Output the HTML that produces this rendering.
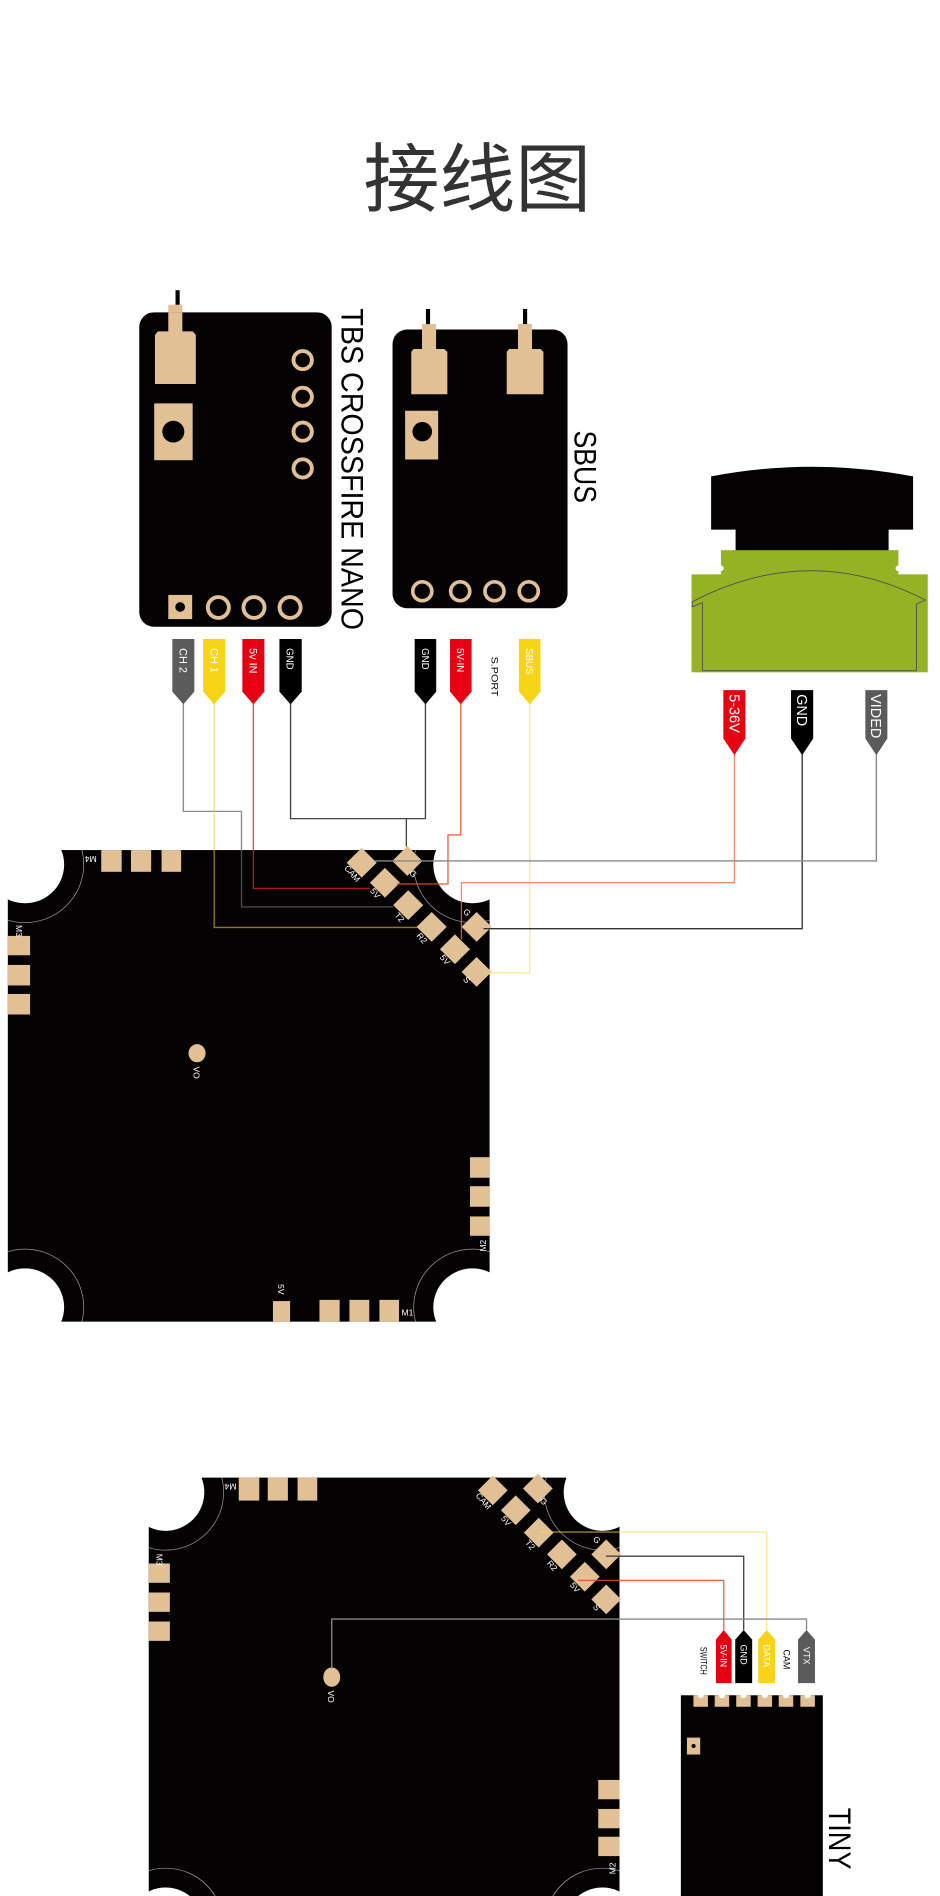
<!DOCTYPE html>
<html><head><meta charset="utf-8"><style>
html,body{margin:0;padding:0;background:#fff;}
svg{display:block;}
text{font-family:"Liberation Sans","Noto Sans CJK SC",sans-serif;}
</style></head><body>
<svg width="940" height="1896" viewBox="0 0 768 1568" preserveAspectRatio="none" xmlns="http://www.w3.org/2000/svg">
<defs>
<clipPath id="b1"><rect x="6.4" y="703" width="393.6" height="390"/></clipPath>
<clipPath id="b2"><rect x="121.5" y="1222" width="389.7" height="346"/></clipPath>
</defs>
<rect width="768" height="1568" fill="#fff"/>
<text x="390" y="170" font-size="62" text-anchor="middle" fill="#333" style="font-family:'Noto Sans CJK SC',sans-serif">接线图</text>

<!-- TBS board -->
<rect x="143.4" y="240" width="3.4" height="14" fill="#000"/>
<rect x="137.5" y="252" width="11.5" height="24" fill="#e2c095"/>
<rect x="113.8" y="258.3" width="157.2" height="260" rx="12" fill="#050203"/>
<rect x="137.5" y="258.3" width="11.5" height="18" fill="#e2c095"/>
<path d="M129 274 H157.5 L160 277 V317.6 H126.6 V277 Z" fill="#e2c095"/>
<rect x="126" y="333.6" width="31.4" height="47" fill="#e2c095"/>
<circle cx="141.6" cy="357" r="9" fill="#050203"/>
<g fill="none" stroke="#e2c095" stroke-width="3.2">
<circle cx="247.3" cy="297.8" r="7.5"/><circle cx="247.3" cy="328.1" r="7.5"/><circle cx="247.3" cy="357" r="7.5"/><circle cx="247.3" cy="387.4" r="7.5"/>
<circle cx="178.4" cy="502.4" r="8.6"/><circle cx="207.5" cy="502.4" r="8.6"/><circle cx="237" cy="502.4" r="8.6"/>
</g>
<rect x="137.5" y="492" width="19.5" height="20" fill="#e2c095"/>
<circle cx="147.2" cy="502" r="4" fill="#050203"/>
<text transform="translate(279,255) rotate(90)" font-size="26" textLength="266" lengthAdjust="spacingAndGlyphs" fill="#000">TBS CROSSFIRE NANO</text>

<!-- SBUS board -->
<rect x="348" y="255.5" width="3.4" height="15" fill="#000"/>
<rect x="427.3" y="255.5" width="3.4" height="15" fill="#000"/>
<rect x="320.7" y="272.5" width="143" height="230.5" rx="12" fill="#050203"/>
<rect x="344.8" y="268" width="11.5" height="22" fill="#e2c095"/>
<rect x="423.2" y="268" width="11.5" height="22" fill="#e2c095"/>
<path d="M338 288.6 H363 L365.5 291 V326 H336 V291 Z" fill="#e2c095"/>
<path d="M416 288.6 H441.5 L444 291 V326 H414 V291 Z" fill="#e2c095"/>
<rect x="331" y="339.7" width="27" height="40.3" fill="#e2c095"/>
<circle cx="345" cy="357" r="8" fill="#050203"/>
<g fill="none" stroke="#e2c095" stroke-width="3"><circle cx="345" cy="489" r="7.8"/><circle cx="376" cy="489" r="7.8"/><circle cx="404" cy="489" r="7.8"/><circle cx="432" cy="489" r="7.8"/></g>
<text transform="translate(469.5,356) rotate(90)" font-size="26" textLength="60" lengthAdjust="spacingAndGlyphs" fill="#000">SBUS</text>

<!-- Camera -->
<path d="M581 394 Q664 378 746 394 V438 H581 Z" fill="#050203"/>
<rect x="601" y="437" width="125" height="19" fill="#050203"/>
<rect x="589" y="455" width="145" height="21" fill="#94b224"/>
<rect x="565" y="475" width="193" height="81" fill="#94b224"/>
<circle cx="589" cy="470" r="2.3" fill="#fff"/><circle cx="734" cy="470" r="2.3" fill="#fff"/>
<path d="M565.6 497.6 Q661.7 447 756 496.2 L748.8 499.5 V554.7 H574 V498.4 L565.6 501.8 Z" fill="none" stroke="#4a4a55" stroke-width="0.7"/>

<!-- FC board 1 -->
<rect x="6.4" y="703" width="393.6" height="390" fill="#050203"/>
<g fill="#fff"><circle cx="20.4" cy="715" r="32"/><circle cx="386" cy="715" r="32"/><circle cx="20.4" cy="1081" r="32"/><circle cx="386" cy="1081" r="32"/></g>
<g clip-path="url(#b1)" fill="none" stroke="#999" stroke-width="0.6"><circle cx="20.4" cy="715" r="48"/><circle cx="386" cy="715" r="48"/><circle cx="20.4" cy="1081" r="48"/><circle cx="386" cy="1081" r="48"/></g>
<g fill="#e2c095">
<rect x="82.7" y="703" width="16.7" height="18"/><rect x="107" y="703" width="16.5" height="18"/><rect x="132" y="703" width="16" height="18"/>
<rect x="6.4" y="774" width="18.2" height="16"/><rect x="6.4" y="798" width="18.2" height="17"/><rect x="6.4" y="822" width="18.2" height="17"/>
<rect x="384" y="957" width="16" height="17"/><rect x="384" y="981" width="16" height="17"/><rect x="384" y="1006" width="16" height="16"/>
<rect x="223" y="1076" width="14" height="17"/><rect x="261" y="1075" width="16.5" height="18"/><rect x="285.5" y="1075" width="16.2" height="18"/><rect x="310" y="1075" width="16" height="18"/>
<ellipse cx="161" cy="871" rx="7" ry="7.5"/>
</g>
<g fill="#e2c095">
<rect x="-8.7" y="-8.7" width="17.4" height="17.4" transform="translate(295.5,713.5) rotate(45)"/>
<rect x="-8.7" y="-8.7" width="17.4" height="17.4" transform="translate(332.8,712) rotate(45)"/>
<rect x="-8.7" y="-8.7" width="17.4" height="17.4" transform="translate(314.5,730) rotate(45)"/>
<rect x="-8.7" y="-8.7" width="17.4" height="17.4" transform="translate(333.5,748.5) rotate(45)"/>
<rect x="-8.7" y="-8.7" width="17.4" height="17.4" transform="translate(352.7,766.5) rotate(45)"/>
<rect x="-8.7" y="-8.7" width="17.4" height="17.4" transform="translate(389.4,766.5) rotate(45)"/>
<rect x="-8.7" y="-8.7" width="17.4" height="17.4" transform="translate(371.7,785) rotate(45)"/>
<rect x="-8.7" y="-8.7" width="17.4" height="17.4" transform="translate(389.4,803.7) rotate(45)"/>
</g>
<g fill="#fff" font-size="7">
<text transform="translate(281,718) rotate(50)">CAM</text>
<text transform="translate(334,722) rotate(50)">G</text>
<text transform="translate(302,737) rotate(50)">5V</text>
<text transform="translate(322,757) rotate(50)">T2</text>
<text transform="translate(340,774) rotate(50)">R2</text>
<text transform="translate(378,754) rotate(50)">G</text>
<text transform="translate(359,792) rotate(50)">5V</text>
<text transform="translate(378,810) rotate(50)">S</text>
<text transform="translate(79,708) rotate(180)">M4</text>
<text transform="translate(13,765) rotate(90)">M3</text>
<text transform="translate(397,1035) rotate(-90)">M2</text>
<text x="328" y="1088">M1</text>
<text transform="translate(227,1062) rotate(90)">5V</text>
<text transform="translate(158,882) rotate(90)">VO</text>
</g>

<!-- Wires FC1 -->
<g fill="none" stroke-width="1.1">
<polyline points="149.8,582 149.8,671 197.3,671 197.3,750 321,750" stroke="#666" stroke-opacity="0.75"/>
<polyline points="175,582 175,767 342,767" stroke="#e8c830" stroke-opacity="0.6"/>
<polyline points="207,582 207,734.7 302,734.7" stroke="#e02010" stroke-opacity="0.8"/>
<polyline points="237.4,582 237.4,677 347.6,677 347.6,582" stroke="#444"/>
<polyline points="332,677 332,700" stroke="#444"/>
<polyline points="376.5,582 376.5,690.5 366,690.5 366,731 324,731" stroke="#e84a20" stroke-opacity="0.85"/>
<polyline points="432.8,582 432.8,804.5 395,804.5" stroke="#f8d850" stroke-opacity="0.6"/>
<polyline points="600,624 600,730 377,730 377,777" stroke="#f07040" stroke-opacity="0.8"/>
<polyline points="655.4,624 655.4,768 395,768" stroke="#333"/>
<polyline points="716,624 716,712 306,712" stroke="#888"/>
</g>

<!-- FC2 + TINY section (slightly compressed horizontally) -->
<g transform="matrix(0.987,0,0,1,1.6,0)">
<rect x="121.5" y="1222" width="389.7" height="346" fill="#050203"/>
<g fill="#fff"><circle cx="135.5" cy="1234" r="32"/><circle cx="497" cy="1234" r="32"/><circle cx="135.5" cy="1593" r="32"/><circle cx="497" cy="1593" r="32"/></g>
<g clip-path="url(#b2)" fill="none" stroke="#999" stroke-width="0.6"><circle cx="135.5" cy="1234" r="48"/><circle cx="497" cy="1234" r="48"/><circle cx="135.5" cy="1593" r="48"/><circle cx="497" cy="1593" r="48"/></g>
<g fill="#e2c095">
<rect x="196" y="1222" width="17" height="19"/><rect x="220" y="1222" width="16.7" height="19"/><rect x="244.7" y="1222" width="16.3" height="19"/>
<rect x="121.5" y="1293" width="17.5" height="16"/><rect x="121.5" y="1317" width="17.5" height="16"/><rect x="121.5" y="1341" width="17.5" height="16"/>
<rect x="493.6" y="1472" width="17.6" height="16"/><rect x="493.6" y="1496" width="17.6" height="16"/><rect x="493.6" y="1519" width="17.6" height="16"/>
<ellipse cx="273" cy="1387" rx="7" ry="8"/>
</g>
<g fill="#e2c095" transform="translate(110.8,519)">
<rect x="-8.7" y="-8.7" width="17.4" height="17.4" transform="translate(295.5,713.5) rotate(45)"/>
<rect x="-8.7" y="-8.7" width="17.4" height="17.4" transform="translate(332.8,712) rotate(45)"/>
<rect x="-8.7" y="-8.7" width="17.4" height="17.4" transform="translate(314.5,730) rotate(45)"/>
<rect x="-8.7" y="-8.7" width="17.4" height="17.4" transform="translate(333.5,748.5) rotate(45)"/>
<rect x="-8.7" y="-8.7" width="17.4" height="17.4" transform="translate(352.7,766.5) rotate(45)"/>
<rect x="-8.7" y="-8.7" width="17.4" height="17.4" transform="translate(389.4,766.5) rotate(45)"/>
<rect x="-8.7" y="-8.7" width="17.4" height="17.4" transform="translate(371.7,785) rotate(45)"/>
<rect x="-8.7" y="-8.7" width="17.4" height="17.4" transform="translate(389.4,803.7) rotate(45)"/>
</g>
<g fill="#fff" font-size="7">
<g transform="translate(110.8,519)">
<text transform="translate(281,718) rotate(50)">CAM</text>
<text transform="translate(334,722) rotate(50)">G</text>
<text transform="translate(302,737) rotate(50)">5V</text>
<text transform="translate(322,757) rotate(50)">T2</text>
<text transform="translate(340,774) rotate(50)">R2</text>
<text transform="translate(378,754) rotate(50)">G</text>
<text transform="translate(359,792) rotate(50)">5V</text>
<text transform="translate(378,810) rotate(50)">S</text>
</g>
<text transform="translate(194,1227) rotate(180)">M4</text>
<text transform="translate(128,1285) rotate(90)">M3</text>
<text transform="translate(508,1550) rotate(-90)">M2</text>
<text transform="translate(270,1398) rotate(90)">VO</text>
</g>

<rect x="562" y="1402" width="117.5" height="166" fill="#050203"/>
<g fill="#e2c095">
<rect x="572.4" y="1402" width="12" height="9.5"/><rect x="590" y="1402" width="12" height="9.5"/><rect x="607.8" y="1402" width="12" height="9.5"/><rect x="625.5" y="1402" width="12" height="9.5"/><rect x="643" y="1402" width="12" height="9.5"/><rect x="660.9" y="1402" width="12" height="9.5"/>
<rect x="567" y="1437" width="11" height="14"/>
</g>
<g fill="#fff"><circle cx="578.4" cy="1402" r="2.5"/><circle cx="596" cy="1402" r="2.5"/><circle cx="613.8" cy="1402" r="2.5"/><circle cx="631.5" cy="1402" r="2.5"/><circle cx="649" cy="1402" r="2.5"/><circle cx="666.9" cy="1402" r="2.5"/></g>
<circle cx="572.5" cy="1444" r="1.7" fill="#050203"/>
<text transform="translate(684.5,1495) rotate(90)" font-size="26" textLength="51" lengthAdjust="spacingAndGlyphs" fill="#000">TINY</text>

<g fill="none" stroke-width="1.1">
<polyline points="444.5,1267 633,1267 633,1348" stroke="#f8d850" stroke-opacity="0.6"/>
<polyline points="500,1287 614,1287 614,1348" stroke="#444"/>
<polyline points="477,1307 597.5,1307 597.5,1348" stroke="#e84a20" stroke-opacity="0.85"/>
<polyline points="273,1380 273,1339 666,1339 666,1348" stroke="#888"/>
</g>
<path d="M591 1392 H604 V1356 L597.5 1348 L591 1356 Z" fill="#e60012"/>
<path d="M607 1392 H621 V1356 L614 1348 L607 1356 Z" fill="#000"/>
<path d="M626 1392 H640 V1356 L633 1348 L626 1356 Z" fill="#f7d417"/>
<path d="M659 1392 H673 V1356 L666 1348 L659 1356 Z" fill="#5b5b5b"/>
<g fill="#fff" font-size="7.5">
<text transform="translate(594.8,1360) rotate(90)">5V-IN</text>
<text transform="translate(611.3,1360) rotate(90)">GND</text>
<text transform="translate(630.3,1360) rotate(90)">DATA</text>
<text transform="translate(663.3,1362) rotate(90)">VTX</text>
</g>
<g fill="#000" font-size="7.5">
<text transform="translate(578.3,1362) rotate(90)" textLength="23" lengthAdjust="spacingAndGlyphs">SWITCH</text>
<text transform="translate(647,1364) rotate(90)">CAM</text>
</g>
</g>

<!-- Tags top -->
<path d="M140.8 528.5 H158.8 V572 L149.8 582.5 L140.8 572 Z" fill="#5b5b5b"/>
<path d="M166 528.5 H184 V572 L175 582.5 L166 572 Z" fill="#f7d417"/>
<path d="M198 528.5 H216 V572 L207 582.5 L198 572 Z" fill="#e60012"/>
<path d="M228.3 528.5 H246.5 V572 L237.4 582.5 L228.3 572 Z" fill="#000"/>
<path d="M338.8 528.5 H356.4 V572 L347.6 582.5 L338.8 572 Z" fill="#000"/>
<path d="M367.7 528.5 H385.3 V572 L376.5 582.5 L367.7 572 Z" fill="#e60012"/>
<path d="M424 528.5 H441.6 V572 L432.8 582.5 L424 572 Z" fill="#f7d417"/>
<path d="M591 570.7 H609 V610.7 L600 624.5 L591 610.7 Z" fill="#e60012"/>
<path d="M646.3 570.7 H664.4 V610.7 L655.4 624.5 L646.3 610.7 Z" fill="#000"/>
<path d="M707 570.7 H725 V610.7 L716 624.5 L707 610.7 Z" fill="#5b5b5b"/>

<g fill="#fff" font-size="9">
<text transform="translate(146.6,536) rotate(90)">CH 2</text>
<text transform="translate(171.8,536) rotate(90)">CH 1</text>
<text transform="translate(203.8,536) rotate(90)">5v  IN</text>
<text transform="translate(234.2,536) rotate(90)" font-size="8">GND</text>
<text transform="translate(344.6,536) rotate(90)" font-size="8">GND</text>
<text transform="translate(373.5,536) rotate(90)" font-size="8">5V-IN</text>
<text transform="translate(429.8,536) rotate(90)" font-size="8">SBUS</text>
<text transform="translate(596.2,574) rotate(90)" font-size="12">5-36V</text>
<text transform="translate(651.2,574) rotate(90)" font-size="12">GND</text>
<text transform="translate(711.8,574) rotate(90)" font-size="12">VIDED</text>
</g>
<g fill="#000" font-size="7.5">
<text transform="translate(401.5,543) rotate(90)" textLength="33" lengthAdjust="spacingAndGlyphs">S.PORT</text>
</g>
</svg>
</body></html>
